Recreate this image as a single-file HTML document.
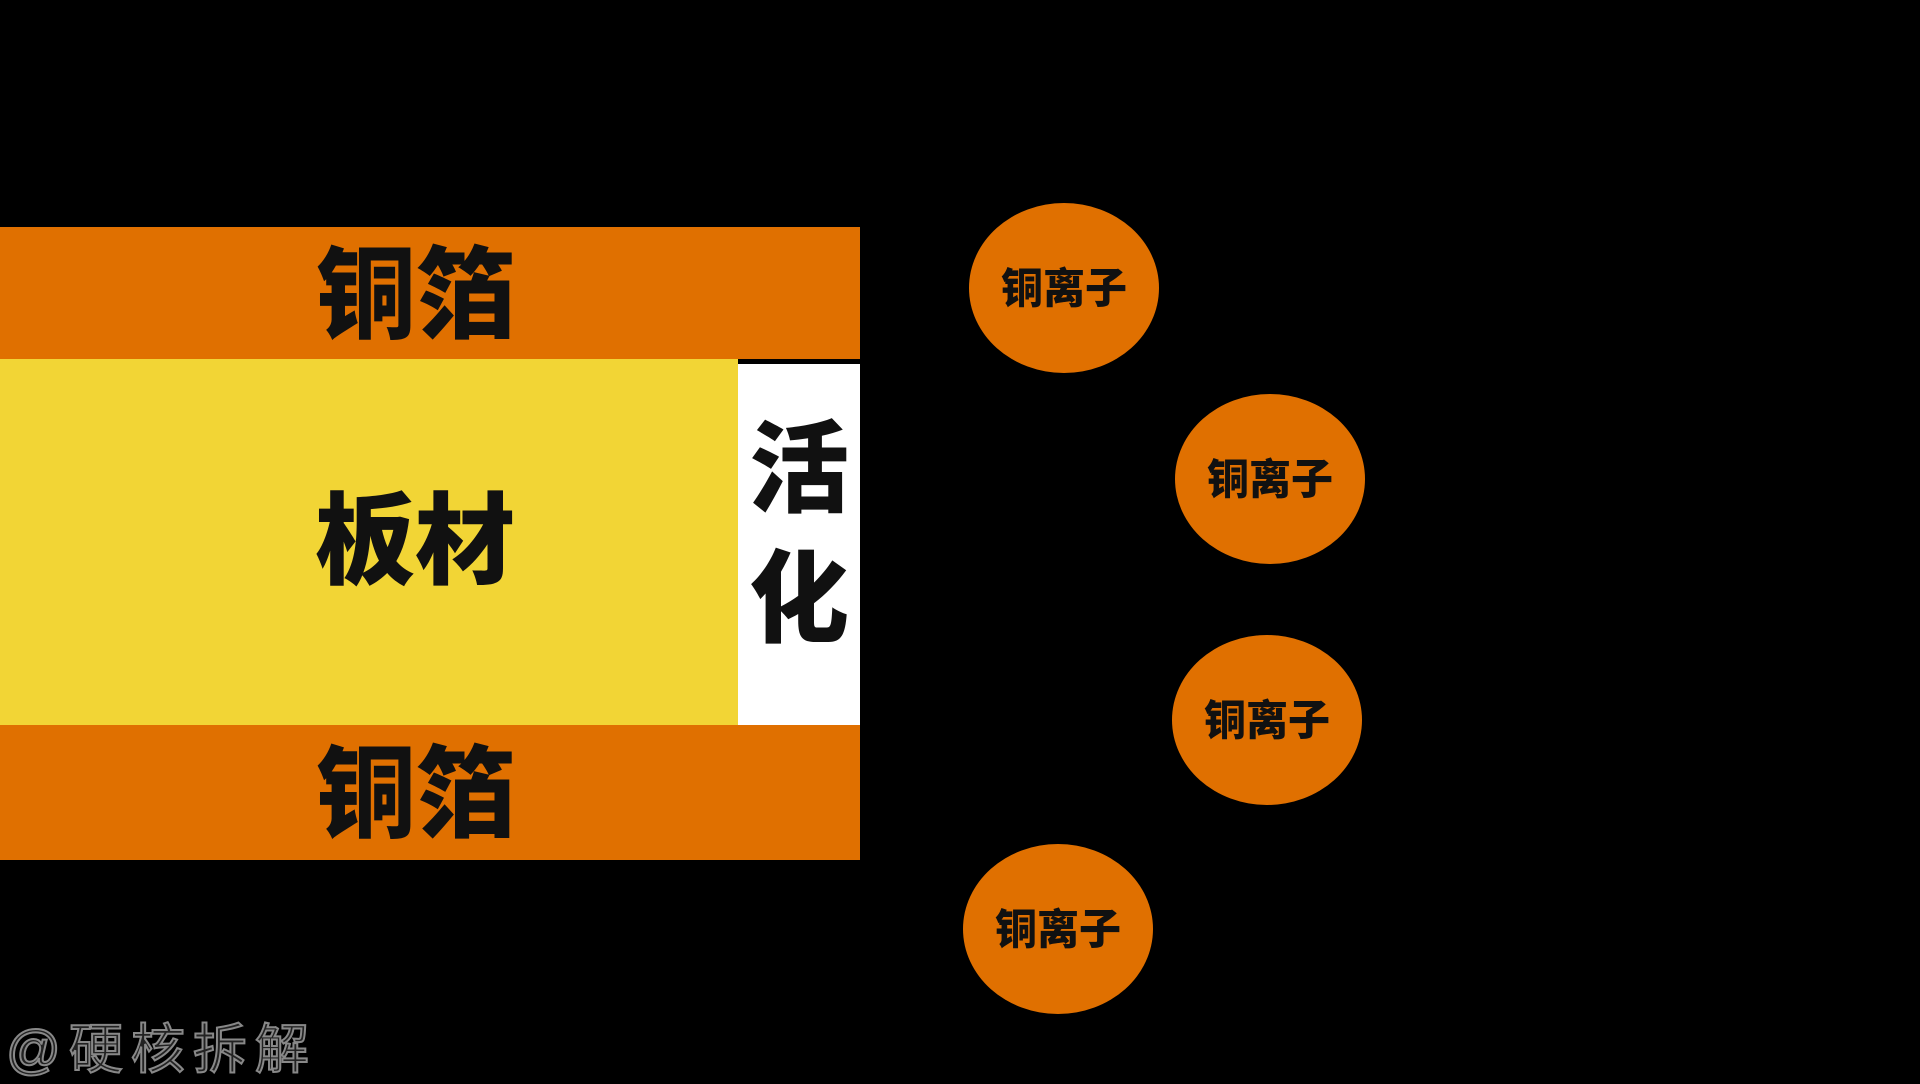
<!DOCTYPE html>
<html><head><meta charset="utf-8"><style>
body{margin:0;width:1920px;height:1080px;background:#000;overflow:hidden;position:relative;font-family:"Liberation Sans","Noto Sans CJK SC",sans-serif;}
div{position:absolute;box-sizing:border-box;}
.o{background:#E07000;left:0;width:860px;}
.t{font-weight:900;color:#111;display:flex;align-items:center;justify-content:center;}
.c{background:#E07000;border-radius:50%;width:190px;height:170px;font-size:42px;font-weight:900;color:#111;display:flex;align-items:center;justify-content:center;padding-bottom:6px;}
</style></head><body>
<div class="o t" style="top:227px;height:132px;font-size:100px;padding-right:28px;padding-bottom:14px;">铜箔</div>
<div class="t" style="background:#F2D535;left:0;top:359px;width:738px;height:366px;font-size:100px;padding-left:92px;padding-bottom:20px;">板材</div>
<div class="t" style="background:#fff;left:738px;top:364px;width:122px;height:361px;font-size:100px;flex-direction:column;line-height:130px;padding-bottom:20px;">活<br>化</div>
<div class="o t" style="top:725px;height:135px;font-size:100px;padding-right:28px;padding-bottom:14px;">铜箔</div>
<div class="c" style="left:969px;top:203px;">铜离子</div>
<div class="c" style="left:1175px;top:394px;">铜离子</div>
<div class="c" style="left:1172px;top:635px;">铜离子</div>
<div class="c" style="left:963px;top:844px;">铜离子</div>
<div style="left:6px;top:1005px;font-size:54px;letter-spacing:8px;color:#222;-webkit-text-stroke:2px #888;font-weight:400;">@硬核拆解</div>
</body></html>
